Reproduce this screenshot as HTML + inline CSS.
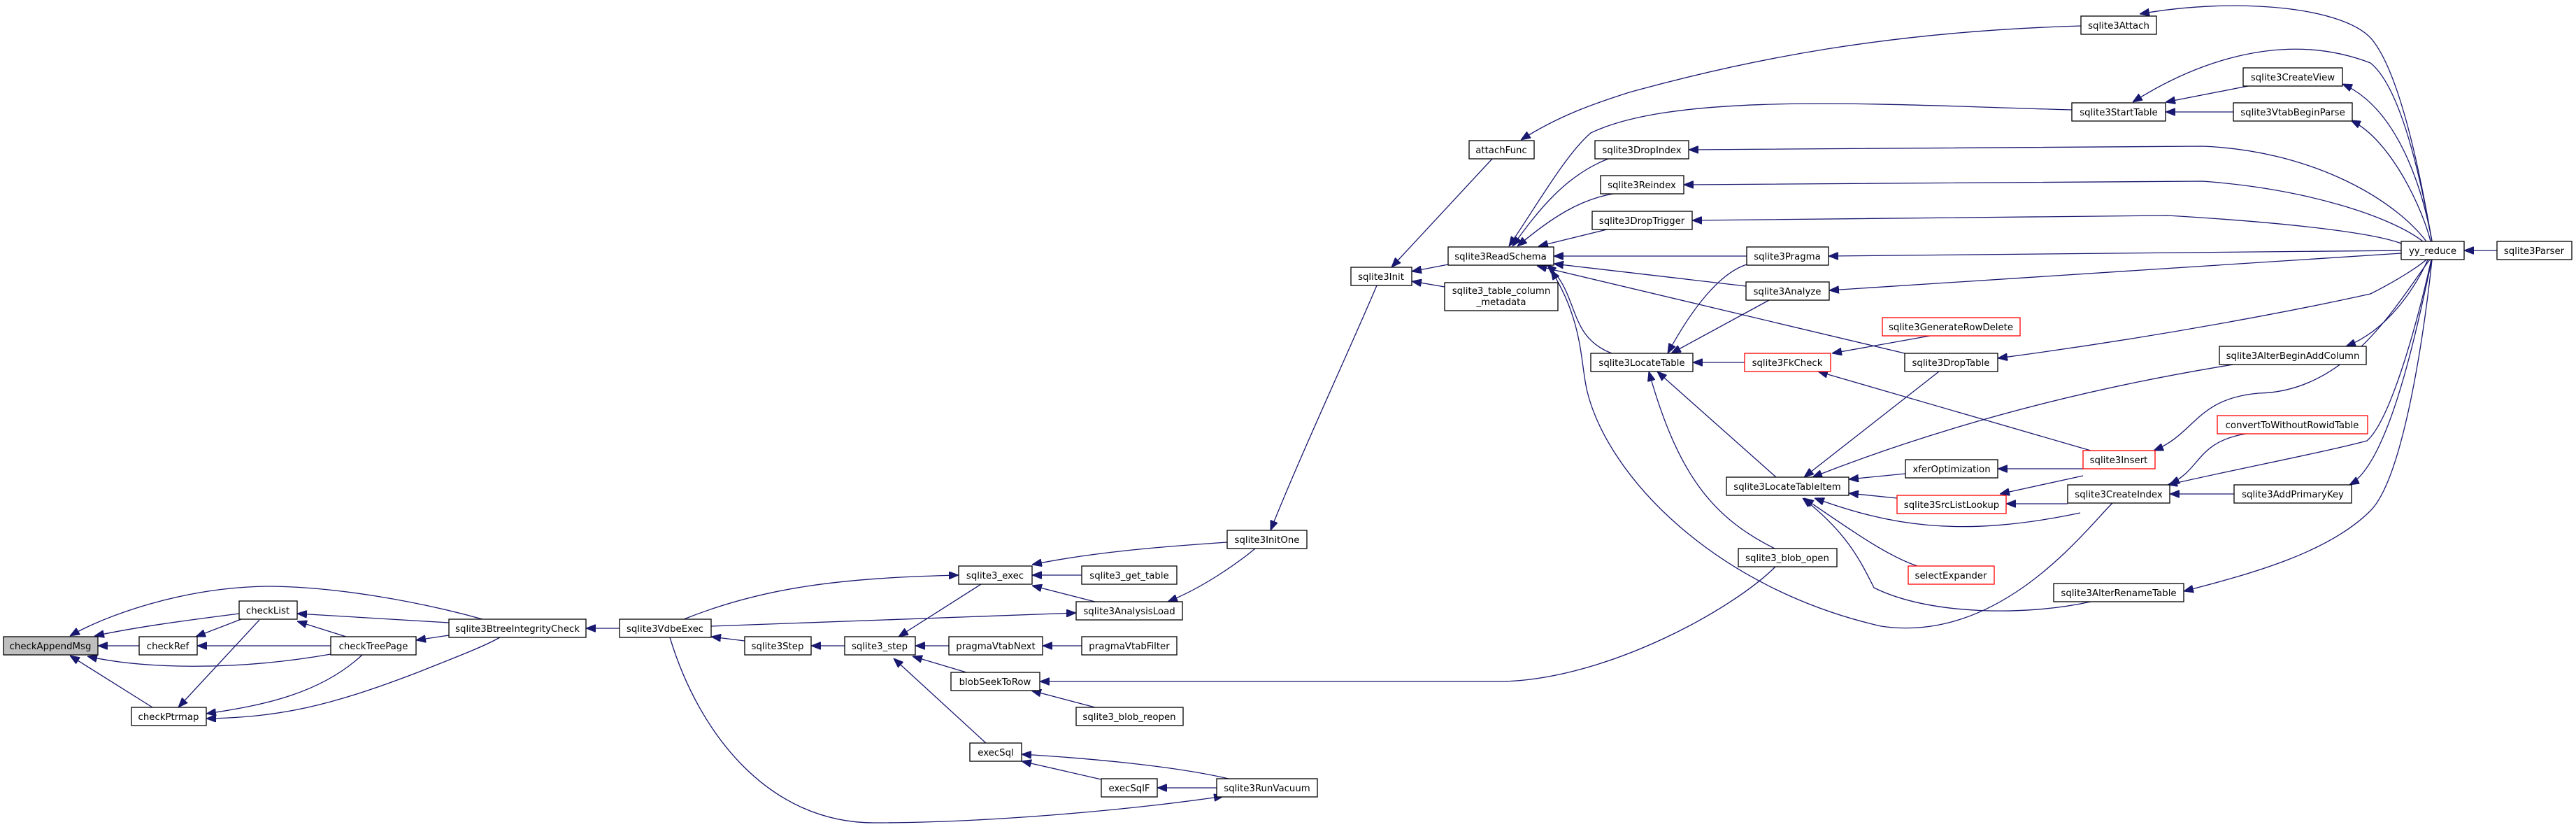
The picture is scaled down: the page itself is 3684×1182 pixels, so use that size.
<!DOCTYPE html>
<html><head><meta charset="utf-8"><style>
html,body{margin:0;padding:0;background:#fff;}
svg{display:block;}
text{font-family:"DejaVu Sans","Liberation Sans",sans-serif;font-size:13.3px;fill:#000;text-anchor:middle;}
.n{fill:#fff;stroke:#000;stroke-width:1.3;}
.r{fill:#fff;stroke:#ff0000;stroke-width:1.3;}
.g{fill:#bfbfbf;stroke:#000;stroke-width:1.3;}
.e{fill:none;stroke:#191970;stroke-width:1.3;}
</style></head><body>
<svg width="3684" height="1182" viewBox="0 0 3684 1182" xmlns="http://www.w3.org/2000/svg">
<defs>
<marker id="a" viewBox="0 0 14 11" refX="14" refY="5.5" markerWidth="14" markerHeight="11" markerUnits="userSpaceOnUse" orient="auto-start-reverse">
<path d="M0,0 L14,5.5 L0,11 Z" fill="#191970" stroke="#191970"/>
</marker>
</defs>
<g class="edges">
<path class="e" marker-start="url(#a)" d="M140,923 L199,923"/>
<path class="e" marker-start="url(#a)" d="M135,909 C200,895 280,885 342,877"/>
<path class="e" marker-start="url(#a)" d="M125,938 C200,955 330,960 473,935"/>
<path class="e" marker-start="url(#a)" d="M100,937 L218,1011"/>
<path class="e" marker-start="url(#a)" d="M100,909 C150,880 260,840 380,838 C480,838 600,860 690,885"/>
<path class="e" marker-start="url(#a)" d="M280,910 L345,885"/>
<path class="e" marker-start="url(#a)" d="M282,923 L473,923"/>
<path class="e" marker-start="url(#a)" d="M425,888 L495,910"/>
<path class="e" marker-start="url(#a)" d="M425,877 L642,890"/>
<path class="e" marker-start="url(#a)" d="M255,1011 L371,886"/>
<path class="e" marker-start="url(#a)" d="M295,1020 C380,1008 460,990 518,936"/>
<path class="e" marker-start="url(#a)" d="M295,1027 C400,1025 470,1010 600,960 C650,940 690,925 715,911"/>
<path class="e" marker-start="url(#a)" d="M595,915 L642,908"/>
<path class="e" marker-start="url(#a)" d="M838,898 L886,898"/>
<path class="e" marker-start="url(#a)" d="M1371,822 C1200,826 1090,840 978,885"/>
<path class="e" marker-start="url(#a)" d="M1539,876 L1017,895"/>
<path class="e" marker-start="url(#a)" d="M1017,910 L1065,916"/>
<path class="e" marker-start="url(#a)" d="M1750,1138 C1600,1160 1400,1176 1250,1176 C1100,1176 1000,1050 958,911"/>
<path class="e" marker-start="url(#a)" d="M1160,923 L1208,923"/>
<path class="e" marker-start="url(#a)" d="M1285,910 L1403,835"/>
<path class="e" marker-start="url(#a)" d="M1309,923 L1357,923"/>
<path class="e" marker-start="url(#a)" d="M1305,938 L1382,961"/>
<path class="e" marker-start="url(#a)" d="M1278,941 L1410,1062"/>
<path class="e" marker-start="url(#a)" d="M1476,822 L1547,822"/>
<path class="e" marker-start="url(#a)" d="M1476,837 L1566,860"/>
<path class="e" marker-start="url(#a)" d="M1476,807 C1560,790 1650,782 1755,775"/>
<path class="e" marker-start="url(#a)" d="M1670,860 C1720,840 1770,805 1795,784"/>
<path class="e" marker-start="url(#a)" d="M1491,923 L1547,923"/>
<path class="e" marker-start="url(#a)" d="M1487,974 L2150,974 C2300,970 2480,870 2540,809"/>
<path class="e" marker-start="url(#a)" d="M1475,987 L1566,1011"/>
<path class="e" marker-start="url(#a)" d="M1461,1088 L1575,1114"/>
<path class="e" marker-start="url(#a)" d="M1461,1078 C1560,1084 1680,1095 1757,1113"/>
<path class="e" marker-start="url(#a)" d="M1655,1126 L1740,1126"/>
<path class="e" marker-start="url(#a)" d="M1817,758 C1860,650 1930,500 1969,408"/>
<path class="e" marker-start="url(#a)" d="M1990,382 L2134,227"/>
<path class="e" marker-start="url(#a)" d="M2019,388 L2071,378"/>
<path class="e" marker-start="url(#a)" d="M2019,402 L2066,410"/>
<path class="e" marker-start="url(#a)" d="M2175,200 C2230,165 2280,148 2330,132 C2500,85 2700,45 2977,37"/>
<path class="e" marker-start="url(#a)" d="M2158,352 C2200,290 2240,220 2275,190 C2400,130 2700,150 2963,157"/>
<path class="e" marker-start="url(#a)" d="M2163,352 C2200,300 2240,250 2300,227"/>
<path class="e" marker-start="url(#a)" d="M2170,352 C2220,310 2260,285 2307,277"/>
<path class="e" marker-start="url(#a)" d="M2200,352 L2298,328"/>
<path class="e" marker-start="url(#a)" d="M2222,366 L2498,366"/>
<path class="e" marker-start="url(#a)" d="M2222,377 L2497,409"/>
<path class="e" marker-start="url(#a)" d="M2212,378 C2260,420 2240,480 2305,505"/>
<path class="e" marker-start="url(#a)" d="M2198,380 L2724,505"/>
<path class="e" marker-start="url(#a)" d="M2218,386 C2265,460 2260,520 2270,560 C2300,680 2450,840 2690,895 C2860,920 2980,760 3021,719"/>
<path class="e" marker-start="url(#a)" d="M2620,505 L2760,480"/>
<path class="e" marker-start="url(#a)" d="M2421,518 L2495,518"/>
<path class="e" marker-start="url(#a)" d="M2385,505 C2420,440 2460,390 2498,378"/>
<path class="e" marker-start="url(#a)" d="M2390,505 L2530,429"/>
<path class="e" marker-start="url(#a)" d="M2600,531 L2990,644"/>
<path class="e" marker-start="url(#a)" d="M2370,531 L2540,682"/>
<path class="e" marker-start="url(#a)" d="M2358,531 C2400,680 2450,740 2538,784"/>
<path class="e" marker-start="url(#a)" d="M2580,682 L2773,531"/>
<path class="e" marker-start="url(#a)" d="M2592,682 C2750,620 2950,560 3200,520"/>
<path class="e" marker-start="url(#a)" d="M2644,685 L2725,677"/>
<path class="e" marker-start="url(#a)" d="M2644,705 L2713,712"/>
<path class="e" marker-start="url(#a)" d="M2595,712 C2700,750 2800,770 2975,733"/>
<path class="e" marker-start="url(#a)" d="M2580,712 C2650,760 2700,795 2742,809"/>
<path class="e" marker-start="url(#a)" d="M2578,712 C2640,760 2660,800 2680,840 C2760,880 2900,880 2990,860"/>
<path class="e" marker-start="url(#a)" d="M2857,670 L2979,670"/>
<path class="e" marker-start="url(#a)" d="M2860,706 L2979,680"/>
<path class="e" marker-start="url(#a)" d="M2869,720 L2957,720"/>
<path class="e" marker-start="url(#a)" d="M3060,20 C3200,-5 3360,10 3395,60 C3440,120 3470,300 3478,345"/>
<path class="e" marker-start="url(#a)" d="M3050,146 C3130,95 3260,40 3390,90 C3440,130 3470,300 3478,345"/>
<path class="e" marker-start="url(#a)" d="M3350,120 C3440,160 3470,300 3478,345"/>
<path class="e" marker-start="url(#a)" d="M3362,172 C3420,200 3465,300 3476,345"/>
<path class="e" marker-start="url(#a)" d="M2415,214 L3150,209 C3300,215 3420,280 3470,345"/>
<path class="e" marker-start="url(#a)" d="M2408,264 L3150,259 C3300,270 3420,310 3465,345"/>
<path class="e" marker-start="url(#a)" d="M2420,315 L3100,308 C3300,320 3400,335 3434,348"/>
<path class="e" marker-start="url(#a)" d="M2615,366 L3434,358"/>
<path class="e" marker-start="url(#a)" d="M2616,415 L3434,362"/>
<path class="e" marker-start="url(#a)" d="M2857,512 C3100,480 3300,440 3390,420 C3430,400 3460,380 3470,371"/>
<path class="e" marker-start="url(#a)" d="M3355,495 C3420,470 3460,400 3472,371"/>
<path class="e" marker-start="url(#a)" d="M3080,644 C3140,620 3140,570 3230,562 C3360,560 3430,430 3475,371"/>
<path class="e" marker-start="url(#a)" d="M3100,693 C3200,670 3330,645 3385,630 C3420,600 3460,450 3477,371"/>
<path class="e" marker-start="url(#a)" d="M3360,693 C3420,660 3460,450 3478,371"/>
<path class="e" marker-start="url(#a)" d="M3123,845 C3220,820 3330,790 3390,730 C3440,680 3470,450 3478,371"/>
<path class="e" marker-start="url(#a)" d="M3524,358 L3571,358"/>
<path class="e" marker-start="url(#a)" d="M3097,146 L3220,122"/>
<path class="e" marker-start="url(#a)" d="M3097,160 L3194,160"/>
<path class="e" marker-start="url(#a)" d="M3103,692 C3150,670 3140,630 3218,619"/>
<path class="e" marker-start="url(#a)" d="M3103,706 L3195,706"/>
</g>
<g class="nodes">
<rect class="g" x="5" y="910" width="135" height="26"/><text x="72" y="928">checkAppendMsg</text>
<rect class="n" x="199" y="910" width="83" height="26"/><text x="240" y="928">checkRef</text>
<rect class="n" x="342" y="859" width="83" height="26"/><text x="383" y="877">checkList</text>
<rect class="n" x="473" y="910" width="122" height="26"/><text x="534" y="928">checkTreePage</text>
<rect class="n" x="188" y="1011" width="107" height="26"/><text x="241" y="1029">checkPtrmap</text>
<rect class="n" x="642" y="885" width="196" height="26"/><text x="740" y="903">sqlite3BtreeIntegrityCheck</text>
<rect class="n" x="886" y="885" width="131" height="26"/><text x="951" y="903">sqlite3VdbeExec</text>
<rect class="n" x="1065" y="910" width="95" height="26"/><text x="1112" y="928">sqlite3Step</text>
<rect class="n" x="1371" y="809" width="105" height="26"/><text x="1423" y="827">sqlite3_exec</text>
<rect class="n" x="1547" y="809" width="136" height="26"/><text x="1615" y="827">sqlite3_get_table</text>
<rect class="n" x="1539" y="860" width="152" height="26"/><text x="1615" y="878">sqlite3AnalysisLoad</text>
<rect class="n" x="1208" y="910" width="101" height="26"/><text x="1258" y="928">sqlite3_step</text>
<rect class="n" x="1357" y="910" width="134" height="26"/><text x="1424" y="928">pragmaVtabNext</text>
<rect class="n" x="1547" y="910" width="136" height="26"/><text x="1615" y="928">pragmaVtabFilter</text>
<rect class="n" x="1360" y="961" width="127" height="26"/><text x="1423" y="979">blobSeekToRow</text>
<rect class="n" x="1539" y="1011" width="153" height="26"/><text x="1615" y="1029">sqlite3_blob_reopen</text>
<rect class="n" x="1387" y="1062" width="74" height="26"/><text x="1424" y="1080">execSql</text>
<rect class="n" x="1575" y="1113" width="80" height="26"/><text x="1615" y="1131">execSqlF</text>
<rect class="n" x="1740" y="1113" width="144" height="26"/><text x="1812" y="1131">sqlite3RunVacuum</text>
<rect class="n" x="1755" y="758" width="114" height="26"/><text x="1812" y="776">sqlite3InitOne</text>
<rect class="n" x="1932" y="382" width="87" height="26"/><text x="1975" y="400">sqlite3Init</text>
<rect class="n" x="2101" y="201" width="93" height="26"/><text x="2147" y="219">attachFunc</text>
<rect class="n" x="2071" y="353" width="151" height="26"/><text x="2146" y="371">sqlite3ReadSchema</text>
<rect class="n" x="2066" y="404" width="162" height="40"/><text x="2147" y="420">sqlite3_table_column</text><text x="2147" y="436">_metadata</text>
<rect class="n" x="2281" y="201" width="134" height="26"/><text x="2348" y="219">sqlite3DropIndex</text>
<rect class="n" x="2289" y="251" width="119" height="26"/><text x="2348" y="269">sqlite3Reindex</text>
<rect class="n" x="2277" y="302" width="143" height="26"/><text x="2348" y="320">sqlite3DropTrigger</text>
<rect class="n" x="2275" y="505" width="146" height="26"/><text x="2348" y="523">sqlite3LocateTable</text>
<rect class="n" x="2498" y="353" width="117" height="26"/><text x="2556" y="371">sqlite3Pragma</text>
<rect class="n" x="2497" y="403" width="119" height="26"/><text x="2556" y="421">sqlite3Analyze</text>
<rect class="r" x="2692" y="454" width="197" height="26"/><text x="2790" y="472">sqlite3GenerateRowDelete</text>
<rect class="r" x="2495" y="505" width="123" height="26"/><text x="2556" y="523">sqlite3FkCheck</text>
<rect class="n" x="2724" y="505" width="133" height="26"/><text x="2790" y="523">sqlite3DropTable</text>
<rect class="n" x="2976" y="23" width="108" height="26"/><text x="3030" y="41">sqlite3Attach</text>
<rect class="n" x="2963" y="147" width="134" height="26"/><text x="3030" y="165">sqlite3StartTable</text>
<rect class="n" x="3208" y="97" width="142" height="26"/><text x="3279" y="115">sqlite3CreateView</text>
<rect class="n" x="3194" y="147" width="170" height="26"/><text x="3279" y="165">sqlite3VtabBeginParse</text>
<rect class="n" x="3434" y="345" width="90" height="26"/><text x="3479" y="363">yy_reduce</text>
<rect class="n" x="3571" y="345" width="107" height="26"/><text x="3624" y="363">sqlite3Parser</text>
<rect class="n" x="3174" y="495" width="210" height="26"/><text x="3279" y="513">sqlite3AlterBeginAddColumn</text>
<rect class="r" x="3171" y="594" width="215" height="26"/><text x="3278" y="612">convertToWithoutRowidTable</text>
<rect class="r" x="2979" y="644" width="103" height="26"/><text x="3030" y="662">sqlite3Insert</text>
<rect class="n" x="2957" y="693" width="146" height="26"/><text x="3030" y="711">sqlite3CreateIndex</text>
<rect class="n" x="3195" y="693" width="168" height="26"/><text x="3279" y="711">sqlite3AddPrimaryKey</text>
<rect class="n" x="2469" y="682" width="175" height="26"/><text x="2556" y="700">sqlite3LocateTableItem</text>
<rect class="n" x="2725" y="657" width="132" height="26"/><text x="2791" y="675">xferOptimization</text>
<rect class="r" x="2713" y="708" width="156" height="26"/><text x="2791" y="726">sqlite3SrcListLookup</text>
<rect class="n" x="2486" y="784" width="141" height="26"/><text x="2556" y="802">sqlite3_blob_open</text>
<rect class="r" x="2729" y="809" width="123" height="26"/><text x="2790" y="827">selectExpander</text>
<rect class="n" x="2937" y="834" width="186" height="26"/><text x="3030" y="852">sqlite3AlterRenameTable</text>
</g>
</svg>
</body></html>
